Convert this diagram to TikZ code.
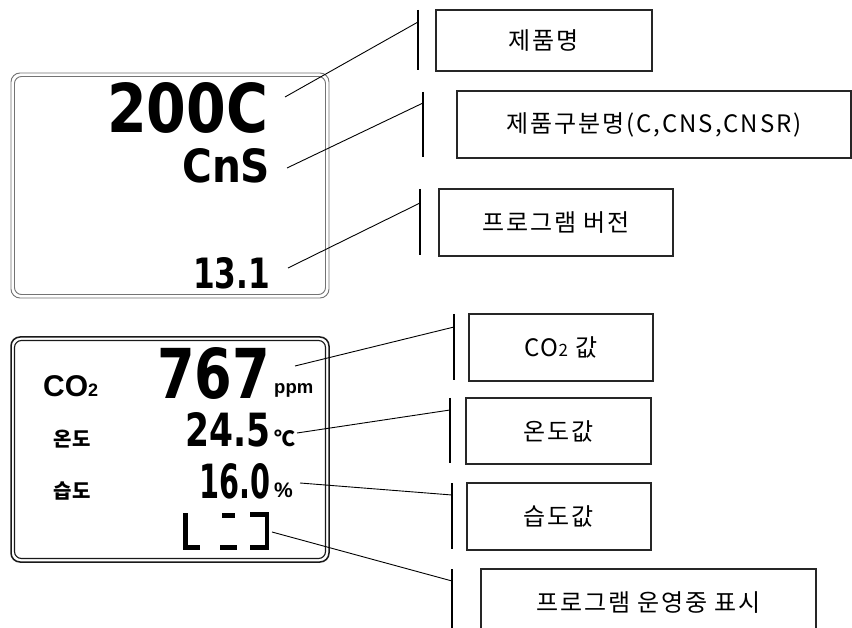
\documentclass[tikz,border=0pt]{standalone}
\usepackage{fontspec}
\setmainfont{Liberation Sans}
\newfontfamily\kr{Noto Sans CJK KR}
\newfontfamily\krs{Noto Sans CJK KR}[LetterSpace=8]
\newfontfamily\lcd{DejaVu Sans}
\begin{document}
\begin{tikzpicture}[x=1pt,y=-1pt,
  lbl/.style={draw=black!85, line width=1.1pt, minimum height=67pt, inner sep=0,
              font=\krs\fontsize{24}{24}\selectfont},
  bar/.style={line width=1.2pt},
  conn/.style={line width=0.9pt},
  lcdtxt/.style={inner sep=0, anchor=north west},
  seg/.style={line width=4.5pt},
  lcdframeA/.style={draw=black!55, line width=0.9pt, rounded corners=9pt},
  lcdframeB/.style={draw=black!90, line width=1.5pt, rounded corners=9pt}]
\useasboundingbox (0,0) rectangle (852,628);
\clip (0,0) rectangle (852,628);
\fill[white] (0,0) rectangle (852,628);

% ---------- top LCD ----------
\draw[lcdframeA] (11,73) rectangle (329,298);
\draw[lcdframeA, rounded corners=7pt] (14.5,76.5) rectangle (325.5,294.5);
\node[lcdtxt] (t200c) at (107,82) {\resizebox{161pt}{50pt}{\lcd\bfseries 200C}};
\node[lcdtxt] (tcns) at (182,148) {\resizebox{88pt}{34pt}{\lcd\bfseries CnS}};
\node[lcdtxt] (t131) at (193,257) {\resizebox{77pt}{31pt}{\lcd\bfseries 13.1}};

% ---------- bottom LCD ----------
\draw[lcdframeB] (11,337) rectangle (329,562);
\draw[lcdframeB, line width=1.1pt, rounded corners=7pt] (14.5,340.5) rectangle (325.5,558.5);
\node[lcdtxt] (t767) at (157,347) {\resizebox{113pt}{51pt}{\lcd\bfseries 767}};
\node[lcdtxt] (t245) at (185,412) {\resizebox{85pt}{34pt}{\lcd\bfseries 24.5}};
\node[lcdtxt] (t160) at (199,463) {\resizebox{71pt}{35pt}{\lcd\bfseries 16.0}};
\node[inner sep=0, anchor=base west, font=\bfseries\fontsize{30}{30}\selectfont] (lco2) at (43,397) {CO{\fontsize{18}{18}\selectfont 2}};
\node[inner sep=0, font=\kr\bfseries\fontsize{20}{20}\selectfont] (lon) at (72,439) {온도};
\node[inner sep=0, font=\kr\bfseries\fontsize{20}{20}\selectfont] (lsup) at (72,491) {습도};
\node[inner sep=0, anchor=base west, font=\bfseries\fontsize{18.5}{18.5}\selectfont] (uppm) at (274,394) {ppm};
\node[inner sep=0, font=\kr\bfseries\fontsize{21}{21}\selectfont] (udeg) at (285,438) {℃};
\node[inner sep=0, anchor=base west, font=\bfseries\fontsize{21}{21}\selectfont] (upct) at (274,497) {\%};
% running indicator
\draw[seg] (185.5,513) -- (185.5,550);
\draw[seg] (183,547.5) -- (200,547.5);
\draw[seg] (222,515.5) -- (235,515.5);
\draw[seg] (220,547.5) -- (237,547.5);
\draw[seg] (250,514.5) -- (269,514.5);
\draw[seg] (267,512) -- (267,550);
\draw[seg] (250,547.5) -- (269,547.5);

% ---------- label boxes ----------
\node[lbl, minimum width=216pt, minimum height=61pt] (b1) at (544,40.5) {제품명};
\node[lbl, minimum width=394pt] (b2) at (654,124.5) {제품구분명(C,CNS,CNSR)};
\node[lbl, minimum width=234pt] (b3) at (556,222.5) {프로그램 버전};
\node[lbl, minimum width=184pt] (b4) at (561,347.5) {CO{\fontsize{17}{17}\selectfont 2} 값};
\node[lbl, minimum width=185pt, minimum height=66pt] (b5) at (558.5,431) {온도값};
\node[lbl, minimum width=184pt] (b6) at (559,516.5) {습도값};
\node[lbl, minimum width=335pt] (b7) at (648.5,602.5) {프로그램 운영중 표시};

% ---------- bars ----------
\coordinate (r1t) at (418,10);  \coordinate (r1b) at (418,70);
\coordinate (r2t) at (423,92);  \coordinate (r2b) at (423,157);
\coordinate (r3t) at (420,189); \coordinate (r3b) at (420,255);
\coordinate (r4t) at (454,314); \coordinate (r4b) at (454,380);
\coordinate (r5t) at (450,398); \coordinate (r5b) at (450,463);
\coordinate (r6t) at (452,483); \coordinate (r6b) at (452,549);
\coordinate (r7t) at (452,569); \coordinate (r7b) at (452,640);
\foreach \i in {1,...,7} {\draw[bar] (r\i t) -- (r\i b);}

% ---------- connectors ----------
\coordinate (s1) at (285,97);  \coordinate (e1) at (418,22);
\coordinate (s2) at (287,168); \coordinate (e2) at (423,103);
\coordinate (s3) at (288,268); \coordinate (e3) at (420,203);
\coordinate (s4) at (295,366); \coordinate (e4) at (454,327);
\coordinate (s5) at (297,433); \coordinate (e5) at (450,410);
\coordinate (s6) at (300,483); \coordinate (e6) at (452,495);
\coordinate (s7) at (272,532); \coordinate (e7) at (452,581);
\foreach \i in {1,...,7} {\draw[conn] (s\i) -- (e\i);}
\end{tikzpicture}
\end{document}
